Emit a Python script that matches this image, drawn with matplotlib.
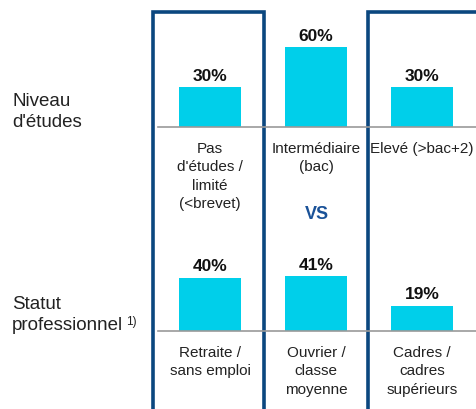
import matplotlib.pyplot as plt
from matplotlib.patches import Rectangle

# data
edu_labels = ["Pas\nd'études /\nlimité\n(<brevet)", "Intermédiaire\n(bac)", "Elevé (>bac+2)"]
edu_values = [30, 60, 30]
job_labels = ["Retraite /\nsans emploi", "Ouvrier /\nclasse\nmoyenne", "Cadres /\ncadres\nsupérieurs"]
job_values = [40, 41, 19]

W, H = 476, 410
bar_color = "#00cfea"
navy = "#0b477f"
font = ["Liberation Sans Narrow", "Liberation Sans", "DejaVu Sans"]
plt.rcParams["font.family"] = font

fig = plt.figure(figsize=(W / 100, H / 100), dpi=100)


def px_axes(left, base, width, height):
    # pixel box (from top-left) -> figure fraction
    return fig.add_axes([left / W, (H - base) / H, width / W, height / H])


def draw_row(ax, labels, values):
    x = range(len(values))
    bars = ax.bar(x, values, width=0.585, color=bar_color)
    for b, v in zip(bars, values):
        ax.annotate(f"{v}%", (b.get_x() + b.get_width() / 2, v), xytext=(0, 3),
                    textcoords="offset points", ha="center", va="bottom",
                    fontsize=12.5, fontweight="bold", color="#111111")
    ax.set_xlim(-0.49, 2.51)
    ax.set_ylim(0, 65)
    ax.set_xticks(list(x))
    ax.set_xticklabels(labels, fontsize=11, color="#222222", linespacing=1.4)
    ax.tick_params(axis="x", length=0, pad=10)
    ax.set_yticks([])
    for s in ["top", "left", "right"]:
        ax.spines[s].set_visible(False)
    ax.spines["bottom"].set_color("#999999")
    ax.spines["bottom"].set_linewidth(1.2)
    ax.patch.set_alpha(0)


ax1 = px_axes(158, 128, 318, 86.7)
draw_row(ax1, edu_labels, edu_values)
ax2 = px_axes(158, 332, 318, 86.7)
draw_row(ax2, job_labels, job_values)

# boxes around the outer columns
for x0, x1 in [(153, 264), (368, 490)]:
    fig.add_artist(Rectangle((x0 / W, -0.05), (x1 - x0) / W, (H + 0.05 * H - 13) / H,
                             transform=fig.transFigure, fill=False,
                             edgecolor=navy, linewidth=2.6, zorder=0))

# row titles
fig.text(12 / W, 1 - 112 / H, "Niveau\nd'études", fontsize=13.5, color="#222222",
         va="center", ha="left", linespacing=1.25)
fig.text(12 / W, 1 - 315 / H, "Statut\nprofessionnel", fontsize=13.5, color="#222222",
         va="center", ha="left", linespacing=1.25)
fig.text(126 / W, 1 - 322 / H, "1)", fontsize=8.5, color="#222222", va="center", ha="left")

fig.text(317 / W, 1 - 215 / H, "VS", fontsize=13, fontweight="bold", color="#1a5298",
         ha="center", va="center")

fig.savefig("out.png", dpi=100)
